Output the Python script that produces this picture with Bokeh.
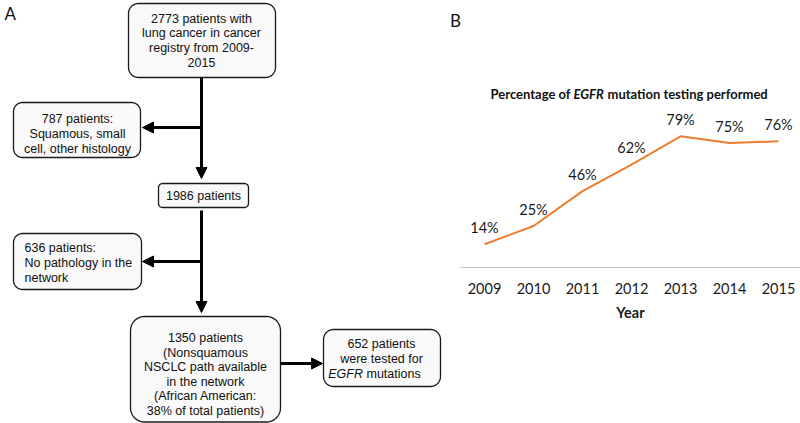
import numpy as np
from bokeh.plotting import figure
from bokeh.layouts import row
from bokeh.models import Range1d, Arrow, NormalHead, FixedTicker
from bokeh.embed import file_html
from bokeh.resources import INLINE
from bokeh.core.properties import value

# ---------------- data ----------------
years = [2009, 2010, 2011, 2012, 2013, 2014, 2015]
pct = [14, 25, 46, 62, 79, 75, 76]
pct_labels = ["14%", "25%", "46%", "62%", "79%", "75%", "76%"]
year_labels = ["2009", "2010", "2011", "2012", "2013", "2014", "2015"]

flow_texts = [
    ["2773 patients with", "lung cancer in cancer", "registry from 2009-", "2015"],
    ["787 patients:", "Squamous, small", "cell, other histology"],
    ["1986 patients"],
    ["636 patients:", "No pathology in the", "network"],
    ["1350 patients", "(Nonsquamous", "NSCLC path available", "in the network", "(African American:", "38% of total patients)"],
    ["652 patients", "were tested for"],
]

# ---------------- layout of the flowchart (reference pixel coords) ----------------
boxes = [
    dict(x0=128, x1=275, y0=3, y1=77, r=10, tx=201, ty0=18, dy=14.7, align="center"),
    dict(x0=13, x1=140, y0=102, y1=157, r=9, tx=77, ty0=118, dy=15, align="center"),
    dict(x0=158, x1=248, y0=183, y1=207, r=4, tx=203, ty0=195, dy=15, align="center"),
    dict(x0=13, x1=141, y0=233, y1=289, r=9, tx=24, ty0=247, dy=15, align="left"),
    dict(x0=130, x1=280, y0=316, y1=421.5, r=14, tx=205, ty0=337.5, dy=14.6, align="center"),
    dict(x0=323, x1=440, y0=329, y1=386, r=10, tx=381, ty0=343, dy=15, align="center"),
]


def rounded(x0, x1, y0, y1, r):
    xs, ys = [], []
    t = np.linspace(0, np.pi / 2, 10)
    for cx, cy, a0 in [(x1 - r, y1 - r, 0.0), (x0 + r, y1 - r, np.pi / 2),
                       (x0 + r, y0 + r, np.pi), (x1 - r, y0 + r, 1.5 * np.pi)]:
        xs.extend(cx + r * np.cos(a0 + t))
        ys.extend(cy + r * np.sin(a0 + t))
    return list(xs), list(ys)


FF = value("Liberation Sans")
FS = "12.5px"
H = 423

pA = figure(width=450, height=H, x_range=Range1d(0, 450), y_range=Range1d(H, 0),
            output_backend="svg", toolbar_location=None,
            x_axis_location=None, y_axis_location=None, min_border=0,
            outline_line_color=None)
pA.xgrid.visible = False
pA.ygrid.visible = False

pxs, pys = [], []
for b in boxes:
    xs, ys = rounded(b["x0"], b["x1"], b["y0"], b["y1"], b["r"])
    pxs.append(xs)
    pys.append(ys)
pA.patches(pxs, pys, fill_color="#f9f9f9", line_color="#1a1a1a", line_width=1.3)

for b, lines in zip(boxes, flow_texts):
    tys = [b["ty0"] + i * b["dy"] for i in range(len(lines))]
    pA.text([b["tx"]] * len(lines), tys, text=lines, text_align=b["align"],
            text_baseline="middle", text_font=FF, text_font_size=FS, text_color="#111111")

# last line of the 652 box with italic EGFR
pA.text([362.5], [373], text=["EGFR"], text_align="right", text_baseline="middle",
        text_font=FF, text_font_size=FS, text_font_style="italic", text_color="#111111")
pA.text([366], [373], text=["mutations"], text_align="left", text_baseline="middle",
        text_font=FF, text_font_size=FS, text_color="#111111")

pA.text([4], [12.5], text=["A"], text_align="left", text_baseline="middle",
        text_font=value("Lato"), text_font_size="17px", text_color="#111111")

arrows = [
    (201, 77, 201, 178),
    (201, 127, 142, 127),
    (201, 210, 201, 312),
    (201, 261, 142, 261),
    (280, 363, 322, 363),
]
for xs_, ys_, xe, ye in arrows:
    pA.add_layout(Arrow(end=NormalHead(size=11, fill_color="black", line_color="black", line_width=1),
                        x_start=xs_, y_start=ys_, x_end=xe, y_end=ye,
                        line_width=3, line_color="black"))

# ---------------- panel B ----------------
LF = value("Lato")
PX_YEAR = 49.0      # px per year
PX_PCT = 1.66       # px per percent
AXIS_Y = 267        # px from top where 0% lies
X0 = 450            # left edge of panel B


def yr(px):
    return 2009 + (px - 484) / PX_YEAR


def pc(py):
    return (AXIS_Y - py) / PX_PCT


pB = figure(width=350, height=H, x_range=Range1d(yr(X0), yr(800)), y_range=Range1d(pc(H), pc(0)),
            output_backend="svg", toolbar_location=None, y_axis_location=None,
            min_border=0, outline_line_color=None)
pB.xgrid.visible = False
pB.ygrid.visible = False
ax = pB.xaxis[0]
ax.fixed_location = 0
ax.bounds = (yr(460), yr(800))
ax.ticker = FixedTicker(ticks=years)
ax.major_label_overrides = {y: s for y, s in zip(years, year_labels)}
ax.major_tick_line_color = None
ax.minor_tick_line_color = None
ax.major_tick_out = 0
ax.minor_tick_out = 0
ax.axis_line_color = "#c0c0c0"
ax.axis_line_width = 1
ax.major_label_standoff = 15
ax.major_label_text_font = "Lato"
ax.major_label_text_font_size = "14.5px"
ax.major_label_text_color = "#1a1a1a"
ax.axis_label = "Year"
ax.axis_label_standoff = 7
ax.axis_label_text_font = "Lato"
ax.axis_label_text_font_size = "14.5px"
ax.axis_label_text_font_style = "bold"
ax.axis_label_text_color = "#1a1a1a"

pB.line(years, pct, line_color="#ED7D31", line_width=2)
pB.text(years, pct, text=pct_labels, y_offset=-17, text_align="center", text_baseline="middle",
        text_font=LF, text_font_size="14.5px", text_color="#1a1a1a")

ty = pc(93)
pB.text([yr(570)], [ty], text=["Percentage of"], text_align="right", text_baseline="middle",
        text_font=LF, text_font_size="13px", text_font_style="bold", text_color="#111111")
pB.text([yr(573)], [ty], text=["EGFR"], text_align="left", text_baseline="middle",
        text_font=LF, text_font_size="13px", text_font_style="bold italic", text_color="#111111")
pB.text([yr(607)], [ty], text=["mutation testing performed"], text_align="left", text_baseline="middle",
        text_font=LF, text_font_size="13px", text_font_style="bold", text_color="#111111")
pB.text([yr(449.5)], [pc(20)], text=["B"], text_align="left", text_baseline="middle",
        text_font=LF, text_font_size="17px", text_color="#111111")

layout = row(pA, pB)
open("out.html", "w").write(file_html(layout, INLINE))
